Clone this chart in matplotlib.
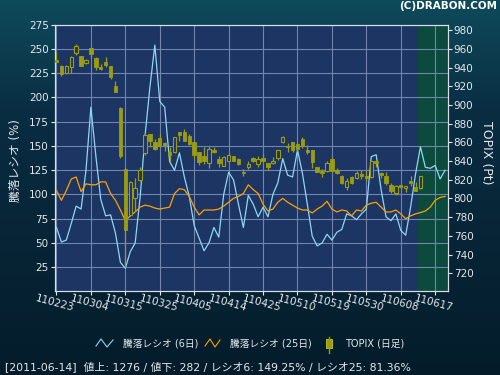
import numpy as np
import matplotlib.pyplot as plt
from matplotlib.colors import LinearSegmentedColormap
from matplotlib.lines import Line2D
from matplotlib.patches import Rectangle

plt.rcParams['font.family'] = ['DejaVu Sans', 'Noto Sans CJK JP']

# trading days, 2011-02-23 .. 2011-06-21
dates = ['110223', '110224', '110225', '110228', '110301', '110302', '110303', '110304',
         '110307', '110308', '110309', '110310', '110311', '110314', '110315', '110316',
         '110317', '110318', '110322', '110323', '110324', '110325', '110328', '110329',
         '110330', '110331', '110401', '110404', '110405', '110406', '110407', '110408',
         '110411', '110412', '110413', '110414', '110415', '110418', '110419', '110420',
         '110421', '110422', '110425', '110426', '110427', '110428', '110502', '110506',
         '110509', '110510', '110511', '110512', '110513', '110516', '110517', '110518',
         '110519', '110520', '110523', '110524', '110525', '110526', '110527', '110530',
         '110531', '110601', '110602', '110603', '110606', '110607', '110608', '110609',
         '110610', '110613', '110614', '110615', '110616', '110617', '110620', '110621']

# 騰落レシオ (6日)
ratio6 = [66, 51, 53, 70, 88, 85, 125, 190, 140, 95, 78, 79, 60, 30, 24, 41, 50, 97, 160, 211,
          254, 196, 190, 134, 125, 143, 118, 98, 68, 55, 42, 50, 66, 56, 100, 123, 115, 90, 66, 99,
          90, 77, 87, 77, 100, 112, 137, 120, 118, 146, 122, 90, 57, 47, 50, 59, 53, 61, 64, 80,
          78, 74, 80, 85, 139, 141, 105, 77, 73, 80, 63, 58, 87, 121, 149.25, 128, 127, 130, 116, 125]

# 騰落レシオ (25日)
ratio25 = [104, 94, 104, 116, 118, 103, 111, 110, 110, 113, 113, 101, 94, 84, 73, 78, 82, 87, 89, 88,
           86, 85, 86, 87, 101, 106, 105, 98, 87, 79, 84, 84, 84, 85, 88, 92, 96, 98, 101, 110,
           105, 101, 90, 83, 85, 92, 96, 92, 89, 86, 84, 84, 81, 85, 88, 93, 85, 82, 84, 83,
           78, 84, 83, 89, 91, 92, 87, 82, 82, 84, 80, 75, 78, 80, 81.36, 83, 87, 94, 97, 98]

# TOPIX daily (2011-02-23 .. 2011-06-14)
topix_open = [948.0, 942.0, 934.6, 940.8, 955.5, 952.0, 944.4, 961.0, 949.8, 940.8,
              946.2, 941.5, 920.2, 896.3, 831.4, 782.7, 800.5, 820.1, 848.2, 868.9,
              860.0, 864.2, 858.9, 849.6, 850.0, 870.6, 870.6, 866.4, 860.0, 849.3,
              845.0, 837.5, 852.1, 842.5, 835.0, 840.4, 845.0, 842.1, 828.6, 833.2,
              842.8, 836.8, 843.2, 837.5, 837.5, 843.2, 860.7, 856.4, 860.0, 857.9,
              863.5, 851.8, 851.8, 833.2, 829.7, 829.7, 842.1, 830.7, 824.3, 811.9,
              822.5, 821.8, 826.1, 824.3, 822.5, 840.4, 827.2, 824.3, 814.7, 805.8,
              814.7, 810.8, 819.0, 812.6, 811.1]
topix_high = [956.5, 943.2, 943.0, 952.0, 964.6, 952.6, 949.0, 962.2, 950.9, 944.1,
              950.9, 941.8, 925.5, 897.4, 831.8, 818.3, 821.8, 833.2, 869.6, 869.2,
              863.5, 868.9, 860.0, 854.6, 866.0, 871.3, 873.8, 868.9, 860.3, 850.0,
              855.3, 856.4, 855.3, 845.0, 845.0, 848.5, 845.7, 843.2, 831.4, 839.6,
              843.9, 845.0, 847.5, 837.8, 843.9, 852.1, 866.4, 858.9, 860.3, 860.0,
              865.3, 857.5, 852.1, 833.9, 831.4, 840.4, 843.9, 832.5, 824.6, 821.8,
              823.6, 829.7, 830.7, 829.7, 840.4, 841.1, 828.6, 828.6, 816.1, 814.7,
              815.4, 813.6, 823.6, 817.2, 824.3]
topix_low = [944.4, 931.2, 933.5, 934.5, 953.6, 941.2, 943.5, 950.6, 937.4, 937.3,
             940.8, 927.2, 913.5, 843.2, 726.4, 781.6, 787.0, 819.0, 846.8, 854.6,
             851.8, 855.3, 850.3, 838.6, 848.5, 861.0, 861.0, 857.5, 842.1, 836.1,
             836.8, 832.2, 848.2, 833.9, 834.3, 838.6, 839.6, 836.1, 824.3, 831.4,
             838.6, 834.0, 839.0, 830.7, 836.8, 841.1, 859.3, 850.0, 850.0, 851.0,
             853.9, 847.5, 832.5, 827.9, 823.3, 828.6, 828.6, 826.5, 815.4, 809.4,
             815.4, 820.8, 820.8, 819.0, 821.8, 833.9, 821.8, 814.7, 805.8, 804.0,
             810.1, 806.5, 813.6, 807.6, 810.1]
topix_close = [945.7, 933.5, 941.8, 950.8, 963.2, 941.9, 948.0, 954.4, 940.8, 938.0,
               942.6, 930.1, 914.1, 845.7, 766.6, 817.2, 811.1, 830.4, 867.8, 861.0,
               852.8, 856.4, 856.7, 846.4, 865.3, 867.8, 861.7, 858.2, 846.8, 839.3,
               839.6, 852.5, 850.0, 838.2, 843.9, 846.4, 840.4, 836.8, 827.2, 836.8,
               840.4, 842.1, 840.4, 833.2, 840.4, 851.8, 865.3, 854.6, 852.1, 852.5,
               855.7, 849.3, 839.3, 828.6, 827.2, 837.5, 829.7, 827.2, 816.1, 819.0,
               816.1, 827.2, 823.6, 821.5, 839.6, 837.9, 825.0, 816.1, 807.6, 812.9,
               812.6, 812.9, 816.1, 808.3, 823.6]

status = '[2011-06-14]  値上: 1276 / 値下: 282 / レシオ6: 149.25% / レシオ25: 81.36%'

plot_bg = '#1c3563'
olive = '#9c9c10'
txt = '#e4e8ee'

fig = plt.figure(figsize=(5, 3.75), dpi=100)

# background gradient
bg = fig.add_axes([0, 0, 1, 1], zorder=-10)
cmap = LinearSegmentedColormap.from_list('bg', [(0, '#0e4b5b'), (0.3, '#0a2d42'), (1, '#041c2a')])
bg.imshow(np.linspace(0, 1, 256)[:, None], aspect='auto', cmap=cmap, extent=[0, 1, 0, 1])
bg.axis('off')

ax = fig.add_axes([0.11, 0.2227, 0.785, 0.7113])
ax.set_facecolor(plot_bg)
ax.set_axisbelow(True)
x = np.arange(len(dates))
ax.axvspan(73.6, 80, color='#0b4a3c', zorder=0.2, lw=0)
ax.plot(x, ratio6, color='#8fd6f4', lw=0.9, zorder=3)
ax.plot(x, ratio25, color='#ffa000', lw=0.9, zorder=3)
ax.set_xlim(-0.3, 79.5)
ax.set_ylim(0, 275)
ax.set_yticks(range(25, 276, 25))
ticks = list(range(0, len(dates), 7))
ax.set_xticks(ticks)
ax.set_xticklabels([dates[i] for i in ticks], rotation=-15, ha='center', rotation_mode='anchor')
ax.grid(True, color='#7084ae', lw=0.8)

# candles on the TOPIX axis
ax2 = ax.twinx()
days = np.arange(len(topix_open))
o = np.array(topix_open)
c = np.array(topix_close)
ax2.vlines(days, topix_low, topix_high, color=olive, lw=0.9, zorder=2)
up = c >= o
ax2.bar(days[~up], (o - c)[~up], bottom=c[~up], width=0.7, color=olive, edgecolor=olive, lw=0.6, zorder=3)
ax2.bar(days[up], (c - o)[up], bottom=o[up], width=0.7, color=plot_bg, edgecolor=olive, lw=0.8, zorder=3)
ax2.set_ylim(700.6, 985.7)
ax2.set_yticks(range(720, 981, 20))

for a in (ax, ax2):
    for s in a.spines.values():
        s.set_color('#d8dde8')
    a.tick_params(colors=txt, labelsize=7.5, length=3, pad=1.5, width=0.8)
ax.tick_params(axis='x', pad=2)

fig.text(0.03, 0.573, '騰落レシオ (%)', rotation=90, ha='center', va='center', color=txt, fontsize=8.5)
fig.text(0.972, 0.592, 'TOPIX (Pt)', rotation=270, ha='center', va='center', color=txt, fontsize=9)
fig.text(0.995, 0.997, '(C)DRABON.COM', ha='right', va='top', color='white', fontsize=7.5, fontweight='bold')

# legend
def px(xp, yp):
    return [v / 500 for v in xp], [1 - v / 375 for v in yp]

fig.add_artist(Line2D(*px([96, 101, 107, 113], [346, 339, 347, 340]), color='#8fd6f4', lw=0.8))
fig.add_artist(Line2D(*px([205, 210, 215, 220], [346, 339, 347, 340]), color='#ffa000', lw=0.8))
fig.add_artist(Line2D(*px([329, 329], [337, 353]), color=olive, lw=1))
fig.add_artist(Rectangle((326 / 500, 1 - 348 / 375), 6 / 500, 9 / 375, transform=fig.transFigure,
                         facecolor=olive, edgecolor='#c8c820', lw=0.6))
fig.text(123 / 500, 1 - 343 / 375, '騰落レシオ (6日)', va='center', color=txt, fontsize=7)
fig.text(230 / 500, 1 - 343 / 375, '騰落レシオ (25日)', va='center', color=txt, fontsize=7)
fig.text(345 / 500, 1 - 343 / 375, 'TOPIX (日足)', va='center', color=txt, fontsize=7)

fig.text(5 / 500, 1 - 367 / 375, status, va='center', color=txt, fontsize=7.8)

plt.savefig('out.png', dpi=100, facecolor=fig.get_facecolor())
